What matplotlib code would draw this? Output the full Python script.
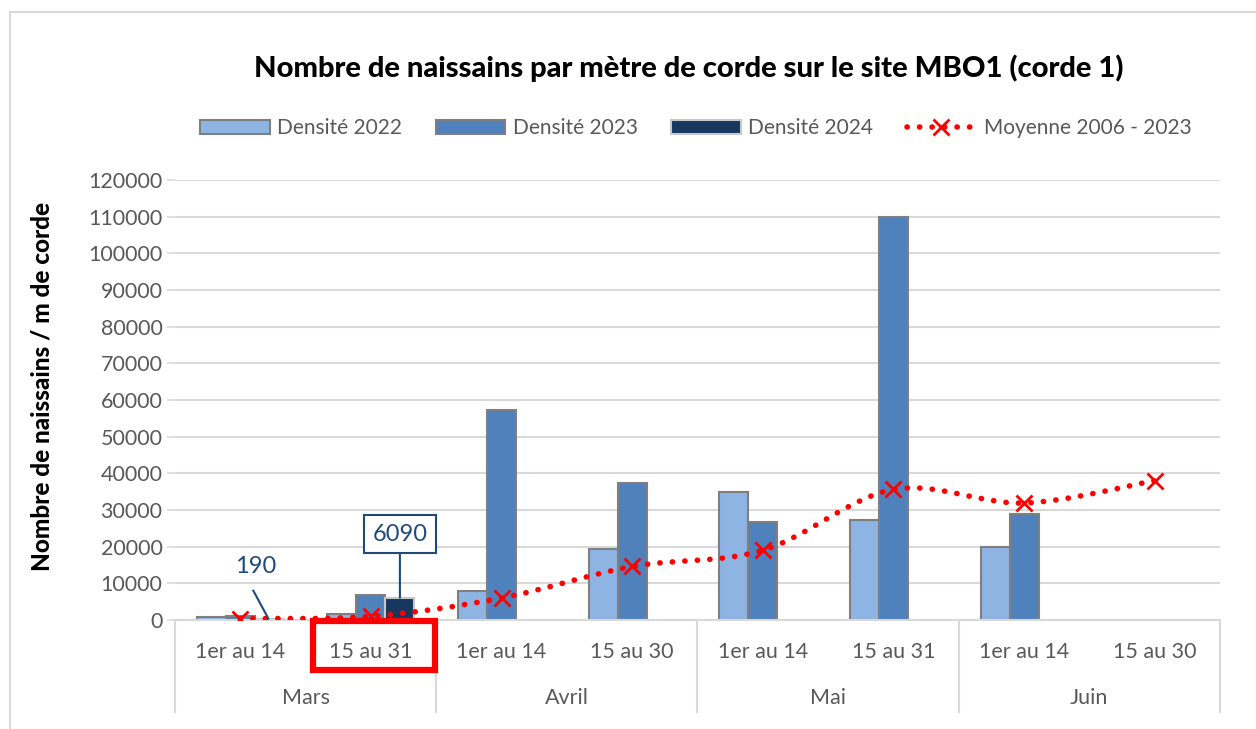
import matplotlib
matplotlib.use("Agg")
import matplotlib.pyplot as plt
import numpy as np
from matplotlib.path import Path
from matplotlib.patches import PathPatch, Rectangle, Patch
from matplotlib.lines import Line2D

plt.rcParams['font.family'] = ['Lato', 'DejaVu Sans']

# Data
periods = ["1er au 14", "15 au 31", "1er au 14", "15 au 30",
           "1er au 14", "15 au 31", "1er au 14", "15 au 30"]
months = ["Mars", "Avril", "Mai", "Juin"]
dens_2022 = [700, 1600, 7900, 19400, 34900, 27200, 19900, np.nan]
dens_2023 = [1000, 6800, 57400, 37500, 26600, 110000, 28800, np.nan]
dens_2024 = [190, 6090, np.nan, np.nan, np.nan, np.nan, np.nan, np.nan]
moyenne = [400, 1000, 6000, 14600, 19000, 35600, 31900, 38000]

c22 = "#8eb4e3"
c23 = "#4f81bd"
c24 = "#17375e"
grey_txt = "#595959"
dots = (0, (0.05, 2.2))

fig = plt.figure(figsize=(12.56, 7.29), dpi=100)
ax = fig.add_axes([0.1393, 0.1495, 0.832, 0.6036])

x = np.arange(len(periods))
w = 0.222
ax.bar(x - w, dens_2022, w, color=c22, edgecolor="#7f7f7f", linewidth=1.5, zorder=2)
ax.bar(x, dens_2023, w, color=c23, edgecolor="#7f7f7f", linewidth=1.5, zorder=2)
ax.bar(x + w, dens_2024, w, color=c24, edgecolor="#c8c8c8", linewidth=1.5, zorder=2)

# smoothed average line (Bezier through the points)
pts = np.column_stack([x, moyenne]).astype(float)
verts = [pts[0]]
codes = [Path.MOVETO]
n = len(pts)
for i in range(n - 1):
    p0 = pts[max(i - 1, 0)]
    p1 = pts[i]
    p2 = pts[i + 1]
    p3 = pts[min(i + 2, n - 1)]
    verts += [p1 + (p2 - p0) / 6, p2 - (p3 - p1) / 6, p2]
    codes += [Path.CURVE4] * 3
curve = PathPatch(Path(verts, codes), fill=False, edgecolor="red", linewidth=4,
                  linestyle=dots, zorder=3)
curve.set_capstyle("round")
ax.add_patch(curve)
ax.plot(x, moyenne, linestyle="none", marker="x", markersize=12, markeredgewidth=2,
        color="red", zorder=4)

ax.set_xlim(-0.5, len(periods) - 0.5)
ax.set_ylim(0, 120000)
ax.set_yticks(np.arange(0, 120001, 10000))
ax.tick_params(axis="y", labelsize=15.5, labelcolor=grey_txt, color="#d9d9d9",
               length=6, width=1.2, pad=3)
ax.yaxis.grid(True, color="#d9d9d9", linewidth=1.5, zorder=0)
ax.set_axisbelow(True)
for s in ["top", "right", "left"]:
    ax.spines[s].set_visible(False)
ax.spines["bottom"].set_color("#d9d9d9")
ax.spines["bottom"].set_linewidth(1.5)

ax.set_xticks(x)
ax.set_xticklabels(periods, fontsize=15.5, color=grey_txt)
ax.tick_params(axis="x", length=0, pad=16)

# month level
trans = ax.get_xaxis_transform()
for k, m in enumerate(months):
    ax.text(2 * k + 0.5, -0.178, m, transform=trans, ha="center", va="center",
            fontsize=15.5, color=grey_txt)
for b in [-0.5, 1.5, 3.5, 5.5, 7.5]:
    ax.plot([b, b], [0, -0.21], transform=trans, color="#d9d9d9", linewidth=1.5,
            clip_on=False)

ax.set_ylabel("Nombre de naissains / m de corde", fontsize=17.5, fontweight="black")
ax.yaxis.set_label_coords(-0.116, 0.53)

# annotations
ax.text(0.12, 14500, "190", fontsize=17, color="#1f497d", ha="center", va="center")
ax.plot([0.1, 0.215], [8000, 400], color="#1f497d", lw=1.5, zorder=5)
ax.annotate("6090", xy=(1 + w, 6090), xytext=(1 + w, 23400), fontsize=17, color="#1f497d",
            ha="center", va="center",
            bbox=dict(boxstyle="square,pad=0.35", fc="white", ec="#1f497d", lw=1.5),
            arrowprops=dict(arrowstyle="-", color="#1f497d", lw=1.5, shrinkA=0, shrinkB=0))

fig.suptitle("Nombre de naissains par mètre de corde sur le site MBO1 (corde 1)",
             x=0.548, y=0.925, fontsize=21, fontweight="black")

handles = [Patch(facecolor=c22, edgecolor="#7f7f7f", linewidth=1.5),
           Patch(facecolor=c23, edgecolor="#7f7f7f", linewidth=1.5),
           Patch(facecolor=c24, edgecolor="#c8c8c8", linewidth=1.5),
           Line2D([], [], color="red", linestyle=dots, linewidth=4,
                  marker="x", markersize=12, markeredgewidth=2,
                  dash_capstyle="round")]
leg = fig.legend(handles, ["Densité 2022", "Densité 2023", "Densité 2024",
                           "Moyenne 2006 - 2023"],
                 loc="center", bbox_to_anchor=(0.554, 0.824), ncol=4, frameon=False,
                 fontsize=15, handlelength=3.35, handleheight=0.7, handletextpad=0.35,
                 columnspacing=1.6)
for t in leg.get_texts():
    t.set_color(grey_txt)

# red highlight box around second tick label
fig.patches.append(Rectangle((313 / 1256, 1 - 670 / 729), 122 / 1256, 49 / 729,
                             transform=fig.transFigure, fill=False, edgecolor="red",
                             linewidth=4.5))
# chart border
fig.patches.append(Rectangle((10 / 1256, -0.1), 1.2, 1 - 12 / 729 + 0.1,
                             transform=fig.transFigure, fill=False, edgecolor="#d9d9d9",
                             linewidth=1.5))

fig.savefig("out.png", dpi=100)
